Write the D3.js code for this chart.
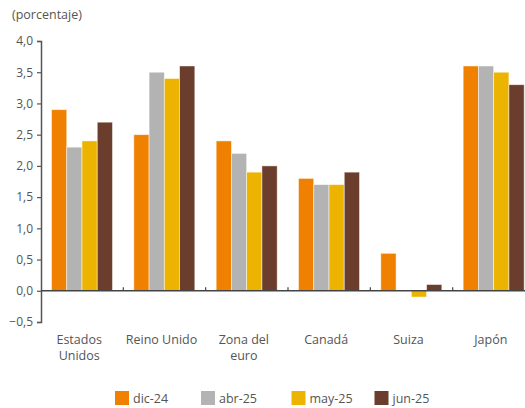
<!DOCTYPE html>
<html>
<head>
<meta charset="utf-8">
<script src="https://cdn.jsdelivr.net/npm/d3@7"></script>
<style>
  body { margin: 0; background: #fff; }
  svg text { font-family: "Open Sans", sans-serif; fill: #555; }
</style>
</head>
<body>
<figure style="margin:0"></figure>
<script>
const categories = [["Estados", "Unidos"], ["Reino Unido"], ["Zona del", "euro"], ["Canadá"], ["Suiza"], ["Japón"]]
const series = ["dic-24", "abr-25", "may-25", "jun-25"]
const dic24 = [2.9, 2.5, 2.4, 1.8, 0.6, 3.6]
const abr25 = [2.3, 3.5, 2.2, 1.7, 0.0, 3.6]
const may25 = [2.4, 3.4, 1.9, 1.7, -0.1, 3.5]
const jun25 = [2.7, 3.6, 2.0, 1.9, 0.1, 3.3]
const yTicks = [-0.5, 0, 0.5, 1, 1.5, 2, 2.5, 3, 3.5, 4]
const colors = ["#f08000", "#b3b3b3", "#ecb400", "#6b3d2d"]

const values = [dic24, abr25, may25, jun25]
const W = 525, H = 408

const svg = d3.select("figure").append("svg")
    .attr("width", W)
    .attr("height", H)

const x0 = d3.scaleBand().domain(d3.range(categories.length)).range([41, 535]).padding(0)
const x1 = d3.scaleBand().domain(d3.range(series.length)).range([10.5, 71.5]).padding(0)
const y = d3.scaleLinear().domain([-0.5, 4]).range([322, 41])

svg.append("text")
    .attr("x", 12).attr("y", 19)
    .attr("font-size", 12.5)
    .text("(porcentaje)")

// bars
series.forEach((s, i) => {
  svg.append("g")
    .selectAll("rect")
    .data(values[i])
    .join("rect")
      .attr("x", (d, j) => x0(j) + x1(i))
      .attr("y", d => y(Math.max(0, d)))
      .attr("width", x1.bandwidth())
      .attr("height", d => Math.abs(y(d) - y(0)))
      .attr("fill", colors[i])
      .attr("stroke", "#fff")
      .attr("stroke-opacity", 0.6)
      .attr("stroke-width", 0.8)
})

// y axis
const yAxis = svg.append("g")
    .attr("transform", "translate(41,0)")
    .call(d3.axisLeft(y).tickValues(yTicks).tickSize(4).tickPadding(4)
      .tickFormat(d => d3.format(".1f")(d).replace(".", ",")))
yAxis.select(".domain").attr("stroke", "#555").attr("stroke-width", 1.5)
yAxis.selectAll(".tick line").attr("stroke", "#555").attr("stroke-width", 1.2)
yAxis.selectAll(".tick text").attr("font-size", 12).attr("fill", "#555")
    .style("font-family", "'Open Sans', sans-serif")

// zero line with category separators
const zero = svg.append("g")
zero.append("line")
    .attr("x1", 41).attr("x2", W)
    .attr("y1", y(0)).attr("y2", y(0))
    .attr("stroke", "#444").attr("stroke-width", 1.5)
zero.selectAll(".sep")
  .data(d3.range(1, categories.length))
  .join("line")
    .attr("x1", d => x0(d)).attr("x2", d => x0(d))
    .attr("y1", y(0) - 3.5).attr("y2", y(0))
    .attr("stroke", "#444").attr("stroke-width", 1.2)

// category labels
svg.append("g")
  .selectAll("text")
  .data(categories)
  .join("text")
    .attr("text-anchor", "middle")
    .attr("font-size", 12.5)
    .attr("x", (d, i) => x0(i) + x0.bandwidth() / 2 - 3)
    .attr("y", 344)
    .selectAll("tspan")
    .data(d => d)
    .join("tspan")
      .attr("x", function() { return this.parentNode.getAttribute("x") })
      .attr("dy", (d, i) => i ? 16 : 0)
      .text(d => d)

// legend
const legX = [115, 201, 291.5, 374.5]
const legend = svg.append("g")
  .selectAll("g")
  .data(series)
  .join("g")
    .attr("transform", (d, i) => "translate(" + legX[i] + ",391)")
legend.append("rect")
    .attr("width", 14).attr("height", 14)
    .attr("fill", (d, i) => colors[i])
legend.append("text")
    .attr("x", 18).attr("y", 12)
    .attr("font-size", 12.5)
    .text(d => d)
</script>
</body>
</html>
